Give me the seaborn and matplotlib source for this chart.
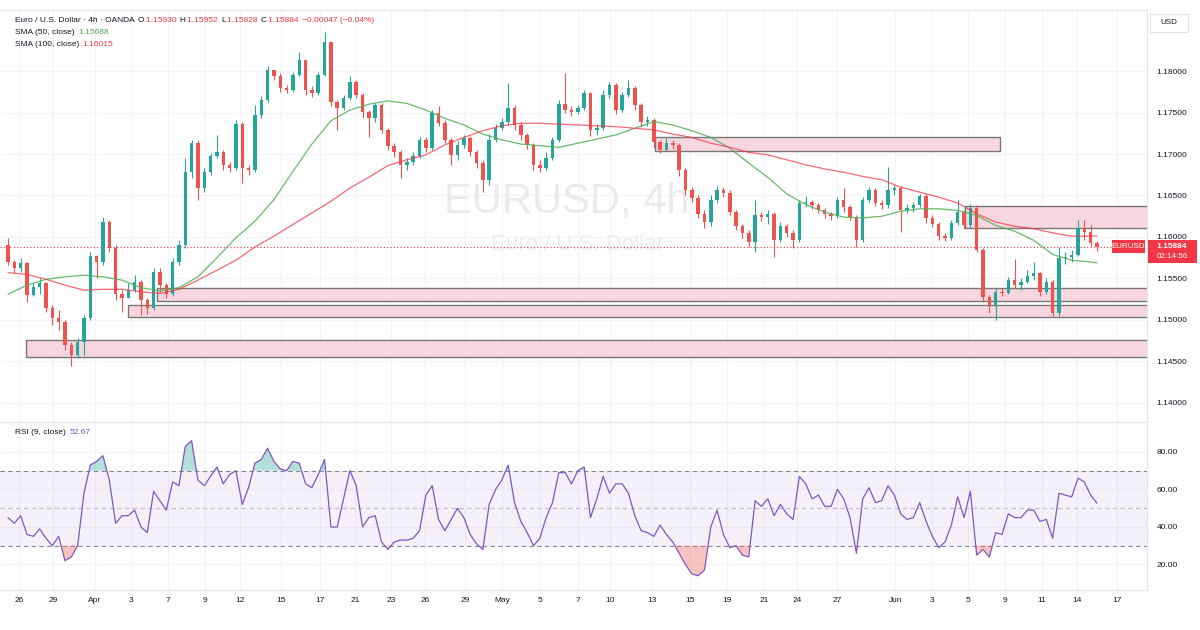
import numpy as np
import matplotlib
matplotlib.use('Agg')
import matplotlib.pyplot as plt
import seaborn as sns
from matplotlib.patches import Rectangle

# ---- data (8h bars, open = previous close) ----
first_open = 1.1590
close = [1.1570, 1.1563, 1.1569, 1.1530, 1.1540, 1.1544, 1.1515, 1.1502, 1.1498, 1.1470,
         1.1458, 1.1473, 1.1502, 1.1577, 1.1570, 1.1618, 1.1587, 1.1531, 1.1526, 1.1536,
         1.1546, 1.1524, 1.1515, 1.1558, 1.1542, 1.1531, 1.1570, 1.1590, 1.1678, 1.1713,
         1.1659, 1.1678, 1.1698, 1.1702, 1.1687, 1.1683, 1.1736, 1.1683, 1.1681, 1.1747,
         1.1765, 1.1801, 1.1794, 1.1779, 1.1777, 1.1795, 1.1813, 1.1777, 1.1773, 1.1795,
         1.1835, 1.1763, 1.1755, 1.1767, 1.1787, 1.1771, 1.1751, 1.1743, 1.1759, 1.1729,
         1.1710, 1.1702, 1.1687, 1.1690, 1.1698, 1.1717, 1.1707, 1.1749, 1.1737, 1.1717,
         1.1699, 1.1711, 1.1719, 1.1702, 1.1689, 1.1669, 1.1717, 1.1731, 1.1739, 1.1755,
         1.1735, 1.1723, 1.1711, 1.1687, 1.1683, 1.1695, 1.1717, 1.1760, 1.1753, 1.1751,
         1.1755, 1.1773, 1.1729, 1.1731, 1.1771, 1.1783, 1.1753, 1.1771, 1.1779, 1.1759,
         1.1739, 1.1741, 1.1714, 1.1705, 1.1713, 1.1711, 1.1681, 1.1657, 1.1647, 1.1628,
         1.1618, 1.1645, 1.1657, 1.1653, 1.1630, 1.1613, 1.1605, 1.1594, 1.1626, 1.1624,
         1.1628, 1.1596, 1.1613, 1.1605, 1.1596, 1.1641, 1.1642, 1.1639, 1.1632, 1.1628,
         1.1625, 1.1645, 1.1636, 1.1624, 1.1596, 1.1645, 1.1657, 1.1641, 1.1639, 1.1657,
         1.1659, 1.1632, 1.1635, 1.1639, 1.1649, 1.1623, 1.1616, 1.1601, 1.1599, 1.1617,
         1.1630, 1.1614, 1.1635, 1.1584, 1.1528, 1.1518, 1.1534, 1.1533, 1.1548, 1.1542,
         1.1546, 1.1553, 1.1557, 1.1534, 1.1546, 1.1508, 1.1575, 1.1576, 1.1578, 1.1611,
         1.1606, 1.1593, 1.15884]
high = [1.1599, 1.1572, 1.1575, 1.1570, 1.1545, 1.1551, 1.1546, 1.1518, 1.1512, 1.1500,
        1.1473, 1.1478, 1.1506, 1.1582, 1.1578, 1.1624, 1.1620, 1.1590, 1.1536, 1.1545,
        1.1554, 1.1548, 1.1526, 1.1563, 1.1563, 1.1545, 1.1575, 1.1596, 1.1695, 1.1717,
        1.1717, 1.1683, 1.1701, 1.1723, 1.1705, 1.1690, 1.1741, 1.1739, 1.1687, 1.1759,
        1.1770, 1.1806, 1.1801, 1.1798, 1.1783, 1.1799, 1.1823, 1.1813, 1.1782, 1.1799,
        1.1847, 1.1835, 1.1765, 1.1771, 1.1794, 1.1789, 1.1773, 1.1753, 1.1761, 1.1761,
        1.1731, 1.1713, 1.1705, 1.1695, 1.1702, 1.1720, 1.1720, 1.1753, 1.1758, 1.1741,
        1.1719, 1.1716, 1.1723, 1.1722, 1.1705, 1.1693, 1.1724, 1.1736, 1.1743, 1.1785,
        1.1759, 1.1739, 1.1725, 1.1713, 1.1693, 1.1702, 1.1720, 1.1765, 1.1798, 1.1758,
        1.1759, 1.1777, 1.1775, 1.1736, 1.1777, 1.1787, 1.1785, 1.1775, 1.1789, 1.1782,
        1.1761, 1.1746, 1.1743, 1.1717, 1.1719, 1.1717, 1.1713, 1.1683, 1.1660, 1.1651,
        1.1632, 1.1651, 1.1661, 1.1660, 1.1657, 1.1632, 1.1616, 1.1608, 1.1645, 1.1630,
        1.1632, 1.1630, 1.1618, 1.1616, 1.1608, 1.1645, 1.1649, 1.1645, 1.1641, 1.1635,
        1.1630, 1.1648, 1.1659, 1.1639, 1.1626, 1.1648, 1.1660, 1.1659, 1.1645, 1.1684,
        1.1663, 1.1661, 1.1640, 1.1642, 1.1652, 1.1652, 1.1626, 1.1618, 1.1605, 1.1620,
        1.1645, 1.1632, 1.1640, 1.1639, 1.1587, 1.1530, 1.1539, 1.1539, 1.1552, 1.1573,
        1.1551, 1.1560, 1.1570, 1.1558, 1.1551, 1.1548, 1.1588, 1.1582, 1.1584, 1.1620,
        1.1620, 1.1614, 1.15952]
low = [1.1566, 1.1557, 1.1558, 1.1522, 1.1529, 1.1531, 1.1510, 1.1494, 1.1488, 1.1464,
       1.1445, 1.1454, 1.1458, 1.1500, 1.1551, 1.1566, 1.1582, 1.1524, 1.1510, 1.1526,
       1.1534, 1.1506, 1.1507, 1.1512, 1.1534, 1.1526, 1.1529, 1.1566, 1.1587, 1.1671,
       1.1645, 1.1654, 1.1675, 1.1695, 1.1681, 1.1678, 1.1681, 1.1665, 1.1675, 1.1678,
       1.1743, 1.1763, 1.1789, 1.1775, 1.1773, 1.1775, 1.1794, 1.1771, 1.1769, 1.1771,
       1.1794, 1.1758, 1.1729, 1.1753, 1.1765, 1.1767, 1.1743, 1.1720, 1.1739, 1.1725,
       1.1705, 1.1696, 1.1671, 1.1681, 1.1687, 1.1695, 1.1702, 1.1705, 1.1734, 1.1713,
       1.1687, 1.1693, 1.1707, 1.1698, 1.1683, 1.1654, 1.1663, 1.1714, 1.1729, 1.1735,
       1.1729, 1.1717, 1.1706, 1.1681, 1.1678, 1.1681, 1.1693, 1.1714, 1.1749, 1.1746,
       1.1748, 1.1753, 1.1722, 1.1723, 1.1729, 1.1767, 1.1748, 1.1751, 1.1769, 1.1753,
       1.1733, 1.1734, 1.1707, 1.1701, 1.1705, 1.1706, 1.1673, 1.1651, 1.1642, 1.1623,
       1.1611, 1.1613, 1.1641, 1.1648, 1.1626, 1.1608, 1.1599, 1.1588, 1.1582, 1.1619,
       1.1616, 1.1576, 1.1594, 1.1600, 1.1587, 1.1594, 1.1636, 1.1634, 1.1629, 1.1623,
       1.1620, 1.1623, 1.1630, 1.1620, 1.1588, 1.1594, 1.1642, 1.1637, 1.1634, 1.1635,
       1.1651, 1.1606, 1.1629, 1.1630, 1.1636, 1.1617, 1.1612, 1.1596, 1.1595, 1.1596,
       1.1614, 1.1610, 1.1611, 1.1582, 1.1522, 1.1508, 1.1500, 1.1529, 1.1531, 1.1539,
       1.1536, 1.1544, 1.1548, 1.1529, 1.1531, 1.1505, 1.1505, 1.1567, 1.1570, 1.1577,
       1.1596, 1.1589, 1.15828]

# moving averages read at every 3rd bar
sma_idx = list(range(0, 172, 3)) + [172]
sma50 = [1.1531, 1.1542, 1.1549, 1.1552, 1.1554, 1.1552, 1.1548, 1.1539, 1.1535, 1.1539,
         1.1552, 1.1575, 1.1599, 1.1619, 1.1645, 1.1679, 1.1712, 1.1740, 1.1753, 1.1760,
         1.1764, 1.1761, 1.1753, 1.1743, 1.1735, 1.1724, 1.1717, 1.1712, 1.1710, 1.1708,
         1.1713, 1.1718, 1.1723, 1.1731, 1.1739, 1.1735, 1.1728, 1.1720, 1.1707, 1.1689,
         1.1672, 1.1652, 1.1639, 1.1630, 1.1624, 1.1623, 1.1625, 1.1631, 1.1634, 1.1634,
         1.1632, 1.1626, 1.1614, 1.1607, 1.1596, 1.1579, 1.1572, 1.1570, 1.15688]
sma100 = [1.1557, 1.1555, 1.1549, 1.1542, 1.1536, 1.1537, 1.1537, 1.1534, 1.1532, 1.1537,
          1.1548, 1.1560, 1.1572, 1.1588, 1.1601, 1.1615, 1.1629, 1.1643, 1.1659, 1.1672,
          1.1686, 1.1693, 1.1699, 1.1711, 1.1720, 1.1728, 1.1734, 1.1737, 1.1737, 1.1736,
          1.1735, 1.1734, 1.1733, 1.1731, 1.1729, 1.1724, 1.1720, 1.1713, 1.1708, 1.1702,
          1.1699, 1.1693, 1.1687, 1.1682, 1.1678, 1.1673, 1.1669, 1.1660, 1.1654, 1.1648,
          1.1641, 1.1628, 1.1618, 1.1613, 1.1610, 1.1605, 1.1601, 1.1601, 1.16015]

rsi = [45, 42, 46, 36, 35, 39, 34, 30, 35, 22, 24, 30, 58, 73, 75, 78, 65, 42, 46, 46,
       49, 40, 37, 59, 54, 49, 64, 62, 83, 86, 65, 62, 67, 72, 63, 68, 70, 52, 61, 74,
       76, 82, 75, 71, 70, 75, 74, 63, 61, 68, 76, 40, 40, 55, 70, 62, 40, 45, 46, 32,
       28, 32, 33, 33, 34, 38, 57, 62, 44, 38, 44, 50, 45, 36, 31, 28, 52, 60, 65, 73,
       53, 43, 37, 30, 34, 45, 53, 69, 69, 63, 70, 72, 45, 55, 67, 58, 63, 63, 58, 46,
       38, 37, 35, 41, 36, 32, 26, 20, 15, 14, 17, 40, 49, 36, 29, 30, 25, 24, 54, 51,
       55, 46, 52, 47, 44, 67, 63, 55, 57, 51, 51, 60, 55, 45, 26, 55, 61, 53, 54, 62,
       57, 47, 44, 45, 53, 43, 35, 29, 32, 41, 56, 45, 59, 25, 28, 24, 37, 36, 47, 45,
       45, 49, 49, 43, 44, 34, 58, 57, 56, 66, 64, 57, 52.67]

# drawn zones: (start bar, end bar, low, high)
zones = [(102.2, 156.7, 1.1704, 1.1720),
         (151.2, 185.0, 1.1611, 1.1637),
         (23.5, 185.0, 1.1523, 1.1539),
         (19.0, 185.0, 1.1504, 1.1518),
         (2.8, 185.0, 1.1455, 1.1476)]

date_pos = [1.74, 7.11, 13.74, 19.43, 25.28, 31.12, 36.65, 43.13, 49.29, 54.82, 60.51,
            65.88, 72.20, 78.04, 84.04, 90.05, 95.10, 101.74, 107.74, 113.59, 119.43,
            124.64, 130.96, 140.13, 145.97, 151.66, 157.50, 163.35, 168.88, 175.20]
date_lab = ['26', '29', 'Apr', '3', '7', '9', '12', '15', '17', '21', '23', '26', '29',
            'May', '5', '7', '10', '13', '15', '19', '21', '24', '27', 'Jun', '3', '5',
            '9', '11', '14', '17']
price_ticks = [1.14, 1.145, 1.15, 1.155, 1.16, 1.165, 1.17, 1.175, 1.18]
rsi_ticks = [20, 40, 60, 80]
last_price = 1.15884

UP, DOWN = '#26a69a', '#ef5350'
TXT = '#131722'
GRID = '#f1f3f6'
EDGE = '#e0e3eb'
RED = '#f23645'

sns.set_theme(style='white')
plt.rcParams['font.family'] = ['Liberation Sans', 'DejaVu Sans']

fig = plt.figure(figsize=(12, 6.3), dpi=100)


def fx(px):
    return px / 1200


def fy(py):
    return 1 - py / 630


ax = fig.add_axes([0, fy(422), fx(1147), (422 - 10) / 630])
ax2 = fig.add_axes([0, fy(590), fx(1147), (590 - 424) / 630], sharex=ax)

close = np.array(close)
high = np.array(high)
low = np.array(low)
opn = np.r_[first_open, close[:-1]]
idx = np.arange(len(close))
cols = np.where(close >= opn, UP, DOWN)

# candles
ax.vlines(idx, np.minimum(low, np.minimum(opn, close)), np.maximum(high, np.maximum(opn, close)),
          colors=cols, lw=0.8, zorder=3)
ax.bar(idx, np.maximum(np.abs(close - opn), 0.00005), bottom=np.minimum(opn, close),
       width=0.55, color=cols, linewidth=0, zorder=4)

# moving averages
sns.lineplot(x=sma_idx, y=sma50, ax=ax, color='#4caf50', linewidth=0.9, alpha=0.85, zorder=5)
sns.lineplot(x=sma_idx, y=sma100, ax=ax, color=RED, linewidth=0.9, alpha=0.75, zorder=5)

# zones
for x0, x1, lo, hi in zones:
    ax.add_patch(Rectangle((x0, lo), x1 - x0, hi - lo, facecolor='#f8d6e0',
                           edgecolor='#767676', lw=1.0, zorder=2))

ax.axhline(last_price, color=RED, ls=(0, (1, 2)), lw=0.8, zorder=1)

# watermark
ax.text(fx(567), fy(201), 'EURUSD, 4h', transform=fig.transFigure, fontsize=30,
        color='#eaebef', ha='center', va='center', zorder=0.6)
ax.text(fx(577), fy(245), 'Euro / U.S. Dollar', transform=fig.transFigure, fontsize=16,
        color='#edeef2', ha='center', va='center', zorder=0.6)

ax.set_xlim(-1.264, 179.9)
ax.set_ylim(1.13771, 1.18735)
ax.set_yticks(price_ticks)
ax.set_yticklabels([f'{v:.5f}' for v in price_ticks])
ax.yaxis.tick_right()
ax.set_xticks(date_pos)
ax.tick_params(axis='x', length=0, labelbottom=False)
ax.tick_params(axis='y', length=0, pad=7, labelsize=6, labelcolor=TXT)
ax.grid(True, color=GRID, lw=0.8)
ax.set_axisbelow(True)
ax.set_xlabel('')
ax.set_ylabel('')

# RSI panel
rsi = np.array(rsi, dtype=float)
ax2.axhspan(30, 70, color='#7e57c2', alpha=0.08, lw=0, zorder=1)
for lvl, a in [(70, 0.9), (50, 0.45), (30, 0.9)]:
    ax2.axhline(lvl, color='#787b86', ls=(0, (4, 3)), lw=0.8, alpha=a, zorder=2)
ax2.fill_between(idx, rsi, 70, where=rsi > 70, interpolate=True, color='#26a69a',
                 alpha=0.35, lw=0, zorder=2)
ax2.fill_between(idx, rsi, 30, where=rsi < 30, interpolate=True, color='#ef5350',
                 alpha=0.35, lw=0, zorder=2)
sns.lineplot(x=idx, y=rsi, ax=ax2, color='#7e57c2', linewidth=0.9, zorder=3)
ax2.set_ylim(6.4, 94.9)
ax2.set_yticks(rsi_ticks)
ax2.set_yticklabels([f'{v:.2f}' for v in rsi_ticks])
ax2.yaxis.tick_right()
ax2.set_xticks(date_pos)
ax2.set_xticklabels(date_lab)
ax2.tick_params(axis='x', length=0, pad=5, labelsize=6, labelcolor=TXT)
ax2.tick_params(axis='y', length=0, pad=7, labelsize=6, labelcolor=TXT)
ax2.grid(True, color=GRID, lw=0.8)
ax2.set_axisbelow(True)
ax2.set_xlabel('')
ax2.set_ylabel('')

for a in (ax, ax2):
    a.spines['left'].set_visible(False)
    for s in ('top', 'right', 'bottom'):
        a.spines[s].set_color(EDGE)
        a.spines[s].set_linewidth(0.8)
ax2.spines['top'].set_visible(False)

# header texts
renderer = fig.canvas.get_renderer()


def flow(parts, x, y, size=6):
    for txt, col in parts:
        t = fig.text(fx(x), fy(y), txt, color=col, fontsize=size, va='center', ha='left')
        bb = t.get_window_extent(renderer)
        x = bb.x1 + 1.2


flow([('Euro / U.S. Dollar · 4h · OANDA ', TXT), ('O', TXT), ('1.15930 ', RED), ('H', TXT),
      ('1.15952 ', RED), ('L', TXT), ('1.15828 ', RED), ('C', TXT), ('1.15884 ', RED),
      ('\u22120.00047 (\u22120.04%)', RED)], 15, 21)
flow([('SMA (50, close) ', TXT), ('1.15688', '#4caf50')], 15, 33)
flow([('SMA (100, close) ', TXT), ('1.16015', RED)], 15, 44)
flow([('RSI (9, close) ', TXT), ('52.67', '#7e57c2')], 15, 433)

# price label boxes on the right
fig.add_artist(Rectangle((fx(1112), fy(253)), 33 / 1200, 13 / 630, transform=fig.transFigure,
                         facecolor=RED, edgecolor='none'))
fig.text(fx(1128.5), fy(246.5), 'EURUSD', color='white', fontsize=5.8, ha='center', va='center')
fig.add_artist(Rectangle((fx(1148), fy(263)), 49 / 1200, 23 / 630, transform=fig.transFigure,
                         facecolor=RED, edgecolor='none'))
fig.text(fx(1172), fy(246.5), '1.15884', color='white', fontsize=6, ha='center', va='center',
         fontweight='bold')
fig.text(fx(1172), fy(257), '02:14:56', color='white', fontsize=5.8, ha='center', va='center')

fig.add_artist(Rectangle((fx(1150), fy(32)), 38 / 1200, 18 / 630, transform=fig.transFigure,
                         facecolor='white', edgecolor=EDGE, lw=0.8))
fig.text(fx(1169), fy(23), 'USD', color=TXT, fontsize=5.8, ha='center', va='center')

fig.savefig('out.png', dpi=100, facecolor='white')
